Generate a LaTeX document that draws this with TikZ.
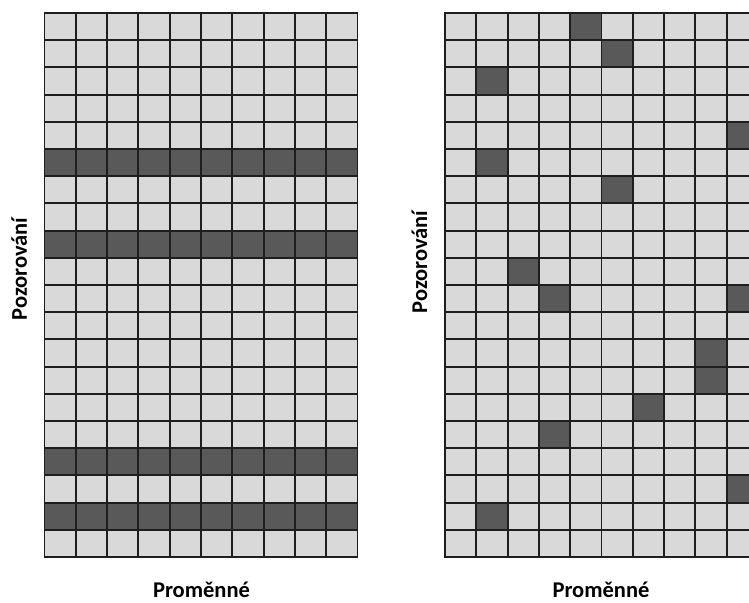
\documentclass[tikz,border=0pt]{standalone}
\usepackage{fontspec}
\setmainfont{Carlito}
\usepackage{tikz}
\usetikzlibrary{positioning}
\usepackage{xcolor}
\definecolor{cellbg}{HTML}{D9D9D9}
\definecolor{cellmiss}{HTML}{595959}
\definecolor{gridline}{HTML}{1E1E1E}

\begin{document}
\begin{tikzpicture}[
  x=1pt, y=-1pt,
  cell/.style={draw=gridline, line width=1.9pt, fill=cellbg},
  miss/.style={cell, fill=cellmiss},
  axlabel/.style={font=\fontsize{22.5}{27}\selectfont\bfseries, inner sep=0pt},
]
  \useasboundingbox (0,0) rectangle (749,602);
  \clip (0,0) rectangle (749,602);
  \def\cw{31.3}
  \def\ch{27.2}

  % Whole observations missing (LEFT)
  \begin{scope}[shift={(44.5,13)}]
    \foreach \r in {0,...,19}
      \foreach \c in {0,...,9}
        \draw[cell] (\c*\cw,\r*\ch) rectangle ++(\cw,\ch);
    \foreach \r in {5,8,16,18}
      \foreach \c in {0,...,9}
        \draw[miss] (\c*\cw,\r*\ch) rectangle ++(\cw,\ch);
  \end{scope}

  % Scattered missing values (RIGHT)
  \begin{scope}[shift={(445,13)}]
    \foreach \r in {0,...,19}
      \foreach \c in {0,...,9}
        \draw[cell] (\c*\cw,\r*\ch) rectangle ++(\cw,\ch);
    \foreach \r/\c in {0/4, 1/5, 2/1, 4/9, 5/1, 6/5, 9/2, 10/3, 10/9,
                       12/8, 13/8, 14/6, 15/3, 17/9, 18/1}
      \draw[miss] (\c*\cw,\r*\ch) rectangle ++(\cw,\ch);
  \end{scope}

  \node[axlabel, rotate=90, anchor=base] (obsL) at (27,269) {Pozorování};
  \node[axlabel, anchor=base] (varL) at (201.5,597) {Proměnné};

  \node[axlabel, rotate=90, anchor=base] (obsR) at (427,262) {Pozorování};
  \node[axlabel, anchor=base] (varR) at (601,597) {Proměnné};
\end{tikzpicture}
\end{document}
